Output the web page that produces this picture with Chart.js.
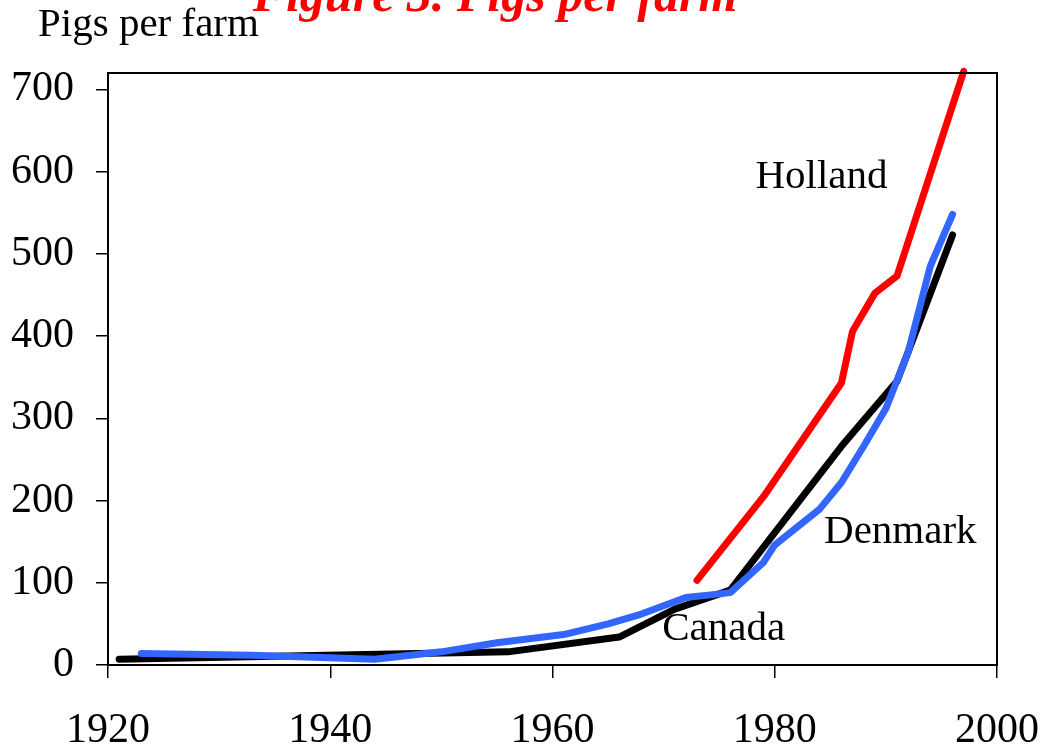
<!DOCTYPE html>
<html>
<head>
<meta charset="utf-8">
<script src="https://cdn.jsdelivr.net/npm/chart.js@4"></script>
<style>
  body { margin: 0; background: #fff; }
  #wrap { width: 1047px; height: 751px; position: relative; }
</style>
</head>
<body>
<div id="wrap"><canvas id="pigsChart"></canvas></div>
<script>
// data (year, pigs per farm)
const hollandYears = [1973, 1979, 1986, 1987, 1989, 1991, 1997];
const hollandPigs  = [103, 205, 343, 406, 452, 473, 722];

const denmarkYears = [1923, 1933, 1944, 1950, 1955, 1961, 1965, 1968, 1972, 1974, 1976, 1979, 1980, 1984, 1986, 1988, 1990, 1992, 1994, 1996];
const denmarkPigs  = [14, 12, 7, 16, 27, 37, 50, 62, 82, 85, 88, 125, 146, 189, 222, 266, 312, 380, 485, 548];

const canadaYears = [1921, 1956, 1966, 1971, 1976, 1986, 1991, 1996];
const canadaPigs  = [7, 16, 34, 68, 91, 266, 345, 523];

const xTicks = [1920, 1940, 1960, 1980, 2000];
const yTicks = [0, 100, 200, 300, 400, 500, 600, 700];

// series name labels, placed in data units
const seriesLabels = [
  { text: "Holland", year: 1984.2, value: 593 },
  { text: "Denmark", year: 1991.3, value: 161 },
  { text: "Canada",  year: 1975.4, value: 43 }
];

const SERIF = "'Liberation Serif', 'Times New Roman', serif";

function toPoints(xs, ys) {
  return xs.map((x, i) => ({ x: x, y: ys[i] }));
}

// draws the frame, titles and series names
const decorPlugin = {
  id: "decor",
  afterDatasetsDraw(chart) {
    const ctx = chart.ctx;
    const a = chart.chartArea;
    const xs = chart.scales.x;
    const ys = chart.scales.y;
    ctx.save();

    ctx.strokeStyle = "#000";
    ctx.lineWidth = 2;
    ctx.strokeRect(a.left, a.top, a.right - a.left, a.bottom - a.top);

    ctx.fillStyle = "#000";
    ctx.font = "41px " + SERIF;
    ctx.textAlign = "center";
    ctx.textBaseline = "middle";
    seriesLabels.forEach(l => {
      ctx.fillText(l.text, xs.getPixelForValue(l.year), ys.getPixelForValue(l.value));
    });

    ctx.textAlign = "left";
    ctx.textBaseline = "alphabetic";
    ctx.fillText("Pigs per farm", 38, 36);

    ctx.fillStyle = "#ff0000";
    ctx.font = "italic bold 50px " + SERIF;
    ctx.textAlign = "center";
    ctx.fillText("Figure 3. Pigs per farm", 495, 11);
    ctx.restore();
  }
};

const lineStyle = {
  borderWidth: 7,
  pointRadius: 0,
  tension: 0,
  fill: false,
  borderCapStyle: "round",
  borderJoinStyle: "round",
  clip: false
};

new Chart(document.getElementById("pigsChart"), {
  type: "line",
  data: {
    datasets: [
      Object.assign({ label: "Denmark", data: toPoints(denmarkYears, denmarkPigs), borderColor: "#3366ff" }, lineStyle),
      Object.assign({ label: "Canada", data: toPoints(canadaYears, canadaPigs), borderColor: "#000000" }, lineStyle),
      Object.assign({ label: "Holland", data: toPoints(hollandYears, hollandPigs), borderColor: "#ff0000" }, lineStyle)
    ]
  },
  options: {
    responsive: true,
    maintainAspectRatio: false,
    animation: false,
    layout: { padding: { left: 0, right: 50, top: 73, bottom: 0 } },
    plugins: {
      legend: { display: false },
      tooltip: { enabled: false }
    },
    scales: {
      x: {
        type: "linear",
        min: 1920,
        max: 2000,
        afterBuildTicks: s => { s.ticks = xTicks.map(v => ({ value: v })); },
        afterFit: s => { s.height = 86; s.paddingRight = 0; s.paddingLeft = 0; },
        grid: { drawOnChartArea: false, tickLength: 13, color: "#000", lineWidth: 1.5 },
        border: { display: false },
        ticks: { color: "#000", font: { family: SERIF, size: 42 }, padding: 28, maxRotation: 0, callback: v => String(v) }
      },
      y: {
        min: 0,
        max: 720,
        afterBuildTicks: s => { s.ticks = yTicks.map(v => ({ value: v })); },
        afterFit: s => { s.width = 108; s.paddingTop = 0; s.paddingBottom = 0; },
        grid: { drawOnChartArea: false, tickLength: 12, color: "#000", lineWidth: 1.5 },
        border: { display: false },
        ticks: { color: "#000", font: { family: SERIF, size: 42 }, padding: 22 }
      }
    }
  },
  plugins: [decorPlugin]
});
</script>
</body>
</html>
